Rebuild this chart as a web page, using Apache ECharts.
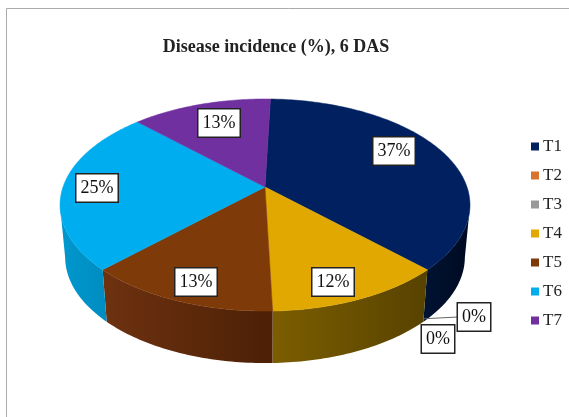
<!DOCTYPE html>
<html>
<head>
<meta charset="utf-8">
<style>html,body{margin:0;padding:0;background:#fff}#c{width:569px;height:417px}</style>
<script src="https://cdn.jsdelivr.net/npm/echarts@6/dist/echarts.min.js"></script>
</head>
<body>
<div id="c"></div>
<script>
const chartTitle = 'Disease incidence (%), 6 DAS';
const treatments = ['T1', 'T2', 'T3', 'T4', 'T5', 'T6', 'T7'];
const incidence = [37, 0, 0, 12, 13, 25, 13];

const faceColors = ['#002060', '#D9722E', '#999999', '#E0A800', '#7F3A0A', '#00AEEF', '#7030A0'];
const wallColors = [
  ['#001333', '#000A20'], ['#A0521F', '#7A3E16'], ['#777777', '#555555'],
  ['#7C5E00', '#574200'], ['#6E3210', '#4C2006'], ['#0098CE', '#008CC0'], ['#552478', '#3E1A58']
];
// Label box centres, measured from the pie's apex
const labelOffsets = [[129, -36], [209, 130], [173, 152], [68, 95], [-69, 95], [-168, 1], [-46, -64]];

// Tilted-disc projection; the side wall runs between the two silhouette angles
const apex = [265, 187];
const firstSliceAngle = 1.8;
const wallRange = [100, 260];
const lens = { depth: 0.17, sx: 202, sy: 103, lowX: 0.975, drop: 52 };
const total = incidence.reduce((a, b) => a + b, 0);

function project(deg, r, low) {
  const t = deg * Math.PI / 180;
  const X = r * Math.sin(t), Y = r * Math.cos(t);
  const w = 1 + lens.depth * Y;
  let px = lens.sx * X / w, py = -lens.sy * Y / w;
  if (low) { px *= lens.lowX; py += lens.drop; }
  return [apex[0] + px, apex[1] + py];
}
function arc(a0, a1, low) {
  const pts = [];
  const n = Math.max(1, Math.ceil(Math.abs(a1 - a0)));
  for (let i = 0; i <= n; i++) pts.push(project(a0 + (a1 - a0) * i / n, 1, low));
  return pts;
}
function sliceStart(i) {
  let sum = 0;
  for (let j = 0; j < i; j++) sum += incidence[j];
  return firstSliceAngle + sum / total * 360;
}

function renderSlice(params, api) {
  const i = params.seriesIndex;
  const value = api.value(0);
  const a0 = sliceStart(i), a1 = a0 + value / total * 360;
  const children = [];
  if (value > 0) {
    const w0 = Math.max(a0, wallRange[0]), w1 = Math.min(a1, wallRange[1]);
    if (w1 > w0) {
      children.push({
        type: 'polygon', z2: 1,
        shape: { points: arc(w0, w1, false).concat(arc(w1, w0, true)) },
        style: {
          fill: {
            type: 'linear', x: 0, y: 0, x2: 1, y2: 0,
            colorStops: [
              { offset: 0, color: wallColors[i][0] },
              { offset: 1, color: wallColors[i][1] }
            ]
          }
        }
      });
    }
    children.push({
      type: 'polygon', z2: 10,
      shape: { points: [apex].concat(arc(a0, a1, false)) },
      style: { fill: faceColors[i], stroke: faceColors[i], lineWidth: 0.5 }
    });
  }
  const lx = apex[0] + labelOffsets[i][0], ly = apex[1] + labelOffsets[i][1];
  if (treatments[i] === 'T2') {
    const from = project(a0, 1, true);
    children.push({
      type: 'line', z2: 15,
      shape: { x1: from[0], y1: from[1] - 3, x2: lx - 16, y2: ly },
      style: { stroke: '#666', lineWidth: 1 }
    });
  }
  children.push({
    type: 'text', z2: 20, x: lx, y: ly,
    style: {
      text: value + '%', align: 'center', verticalAlign: 'middle',
      font: '18px "Liberation Serif"', fill: '#111',
      backgroundColor: '#fff', borderColor: '#222', borderWidth: 1.5,
      padding: [5, 4, 4, 4]
    }
  });
  return { type: 'group', children };
}

const chart = echarts.init(document.getElementById('c'));
chart.setOption({
  animation: false,
  backgroundColor: '#fff',
  title: {
    text: chartTitle, left: 271, top: 33, textAlign: 'center',
    textStyle: { fontFamily: 'Liberation Serif', fontSize: 18, fontWeight: 'bold', color: '#222' }
  },
  legend: {
    orient: 'vertical', left: 531, top: 138, padding: 0, itemWidth: 8, itemHeight: 8, itemGap: 12,
    icon: 'rect', data: treatments,
    textStyle: { fontFamily: 'Liberation Serif', fontSize: 17, color: '#222', padding: [0, 0, 0, -1] }
  },
  graphic: [{
    type: 'rect', silent: true, z: -1,
    shape: { x: 6.5, y: 8.5, width: 600, height: 500 },
    style: { fill: 'none', stroke: '#ABABAB', lineWidth: 1 }
  }],
  series: treatments.map((name, i) => ({
    type: 'custom', name, coordinateSystem: 'none',
    itemStyle: { color: faceColors[i] },
    data: [[incidence[i]]],
    renderItem: renderSlice
  }))
});
</script>
</body>
</html>
